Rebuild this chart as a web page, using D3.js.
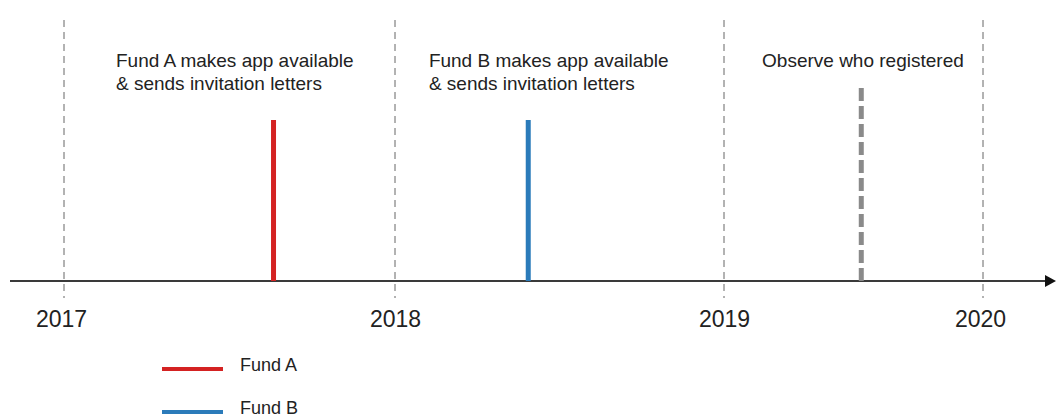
<!DOCTYPE html>
<html><head><meta charset="utf-8">
<script src="https://cdn.jsdelivr.net/npm/d3@7"></script>
<style>
html,body{margin:0;padding:0;background:#fff;}
svg{display:block;font-family:"Liberation Sans",Arial,sans-serif;}
</style></head>
<body><svg id="c" width="1056" height="419"></svg>
<script>
// ---- data ----
const years = [2017, 2018, 2019, 2020];
const yearLabels = ["2017", "2018", "2019", "2020"];
const eventNames = ["Fund A", "Fund B", "Observe"];
const eventDates = [2017.633, 2018.405, 2019.53];
const eventHeights = [1.0, 1.0, 1.22];
const eventLabelLines = [
  ["Fund A makes app available", "& sends invitation letters"],
  ["Fund B makes app available", "& sends invitation letters"],
  ["Observe who registered"]
];
const eventLabelDates = [2017.157, 2018.103, 2019.147];
const eventColors = ["#d42222", "#2b7bba", "#8a8a8a"];
const legendNames = ["Fund A", "Fund B"];
const legendColors = ["#d42222", "#2b7bba"];

// ---- scales ----
const svg = d3.select("#c");
const x = d3.scaleLinear().domain(years).range([64, 395, 724, 983]);
const axisY = 281;
const y = d3.scaleLinear().domain([0, 1]).range([axisY, 120]);

// gridlines
svg.append("g").selectAll("line").data(years).join("line")
  .attr("x1", d => x(d)).attr("x2", d => x(d))
  .attr("y1", 20).attr("y2", 298)
  .attr("stroke", "#666").attr("stroke-width", 1)
  .attr("stroke-dasharray", "7,5");

// axis line with arrow
svg.append("line").attr("x1", 10).attr("x2", 1048)
  .attr("y1", axisY).attr("y2", axisY)
  .attr("stroke", "#3a3a3a").attr("stroke-width", 2);
svg.append("path").attr("d", `M1045,${axisY-6}L1056,${axisY}L1045,${axisY+6}Z`).attr("fill", "#111");

// year labels via axis
const ax = svg.append("g").attr("transform", `translate(0,${axisY})`)
  .call(d3.axisBottom(x).tickValues(years).tickFormat((d, i) => yearLabels[i]).tickSize(0).tickPadding(30));
ax.select(".domain").remove();
ax.selectAll("text").attr("font-size", 23).attr("fill", "#222")
  .attr("font-family", "Liberation Sans, Arial, sans-serif")
  .attr("dx", (d, i) => i === 3 ? -3 : (i === 0 ? -3 : 0));

// events
const ev = eventNames.map((n, i) => ({n, d: eventDates[i], h: eventHeights[i], c: eventColors[i], lines: eventLabelLines[i], ld: eventLabelDates[i]}));
svg.append("g").selectAll("line").data(ev).join("line")
  .attr("x1", d => x(d.d)).attr("x2", d => x(d.d))
  .attr("y1", axisY).attr("y2", d => y(d.h))
  .attr("stroke", d => d.c).attr("stroke-width", 5)
  .attr("stroke-dasharray", (d, i) => i === 2 ? "13,5" : null);

// event labels
const lab = svg.append("g").selectAll("text").data(ev).join("text")
  .attr("x", d => x(d.ld)).attr("y", 67).attr("text-anchor", "start")
  .attr("font-size", 19).attr("fill", "#222");
lab.selectAll("tspan").data(d => d.lines.map(t => ({t, x: x(d.ld)}))).join("tspan")
  .attr("x", d => d.x).attr("dy", (d, i) => i === 0 ? 0 : 23).text(d => d.t);

// legend
const lg = svg.append("g").selectAll("g").data(legendNames).join("g")
  .attr("transform", (d, i) => `translate(0,${369 + i * 43})`);
lg.append("line").attr("x1", 162).attr("x2", 223).attr("y1", 0).attr("y2", 0)
  .attr("stroke", (d, i) => legendColors[i]).attr("stroke-width", 4);
lg.append("text").attr("x", 240).attr("y", 2).attr("font-size", 18).attr("fill", "#222").text(d => d);
</script></body></html>
